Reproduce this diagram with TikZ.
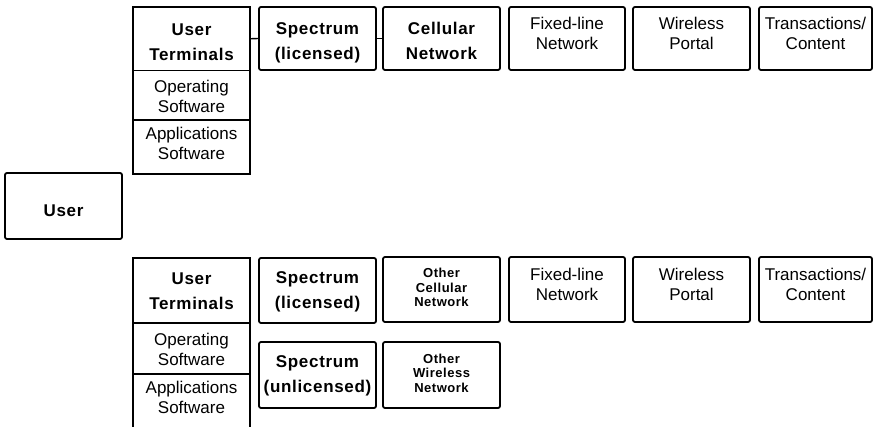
\documentclass[tikz,border=0pt]{standalone}
\usepackage{fontspec}
\setmainfont{Liberation Sans}
\newfontfamily\bsans[LetterSpace=4]{Liberation Sans}
\newfontfamily\ssans[LetterSpace=4]{Liberation Sans}
\newcommand\fRg{\fontsize{17}{20}\selectfont}
\newcommand\fBg{\bsans\bfseries\fontsize{17}{25}\selectfont}
\newcommand\fSm{\ssans\bfseries\fontsize{13}{14.5}\selectfont}
\newcommand\ctext[2]{\raisebox{#1}[\height][\depth]{\begin{tabular}{@{}c@{}}#2\end{tabular}}}
\begin{document}
\begin{tikzpicture}[x=1pt,y=-1pt,
  box/.style={draw=black, line width=1.8pt, rounded corners=2pt, inner sep=0pt, align=center},
  cell/.style={draw=black, line width=1.8pt, inner sep=0pt, align=center},
  wide/.style={minimum width=117pt},
  toprow/.style={minimum height=63pt},
  botrow/.style={minimum height=65pt},
  link/.style={line width=1.4pt}]
\useasboundingbox (0,0) rectangle (873,427);
\clip (0,0) rectangle (873,427);
% top group
\node[cell, wide, minimum height=63.5pt] (ut1) at (191.5,38.75) {\fBg\ctext{-4pt}{User\\Terminals}};
\node[cell, wide, minimum height=49.5pt] (os1) at (191.5,95.25) {\fRg\ctext{-3.5pt}{Operating\\Software}};
\node[cell, wide, minimum height=54pt] (as1) at (191.5,147) {\fRg\ctext{1pt}{Applications\\Software}};
\node[box, wide, toprow] (sp1) at (317.5,38.5) {\fBg\ctext{-3.5pt}{Spectrum\\(licensed)}};
\node[box, wide, toprow] (cn1) at (441.5,38.5) {\fBg\ctext{-3.5pt}{Cellular\\Network}};
\node[box, minimum width=116pt, toprow] (fl1) at (567,38.5) {\fRg\ctext{2.5pt}{Fixed-line\\Network}};
\node[box, wide, toprow] (wp1) at (691.5,38.5) {\fRg\ctext{2.5pt}{Wireless\\Portal}};
\node[box, minimum width=113pt, toprow] (tc1) at (815.5,38.5) {\fRg\ctext{2.5pt}{Transactions/\\Content}};
\draw[link] (ut1.east) -- (sp1.west);
\draw[link] (sp1.east) -- (cn1.west);
% user
\node[box, wide, minimum height=66pt] (user) at (63.5,206) {\fBg\ctext{-5.5pt}{User}};
% bottom group
\node[cell, wide, minimum height=65pt] (ut2) at (191.5,290.5) {\fBg\ctext{-2pt}{User\\Terminals}};
\node[cell, wide, minimum height=51pt] (os2) at (191.5,348.5) {\fRg\ctext{-3pt}{Operating\\Software}};
\node[cell, wide, minimum height=58pt] (as2) at (191.5,403) {\fRg\ctext{3pt}{Applications\\Software}};
\node[box, wide, botrow] (sp2) at (317.5,290.5) {\fBg\ctext{-1pt}{Spectrum\\(licensed)}};
\node[box, wide, botrow] (oc2) at (441.5,289.5) {\fSm\ctext{0pt}{Other\\Cellular\\Network}};
\node[box, minimum width=116pt, botrow] (fl2) at (567,289.5) {\fRg\ctext{3pt}{Fixed-line\\Network}};
\node[box, wide, botrow] (wp2) at (691.5,289.5) {\fRg\ctext{3pt}{Wireless\\Portal}};
\node[box, minimum width=113pt, botrow] (tc2) at (815.5,289.5) {\fRg\ctext{3pt}{Transactions/\\Content}};
\node[box, wide, minimum height=66pt] (su2) at (317.5,375) {\fBg\ctext{0pt}{Spectrum\\(unlicensed)}};
\node[box, wide, minimum height=66pt] (ow2) at (441.5,375) {\fSm\ctext{0pt}{Other\\Wireless\\Network}};
\end{tikzpicture}
\end{document}
